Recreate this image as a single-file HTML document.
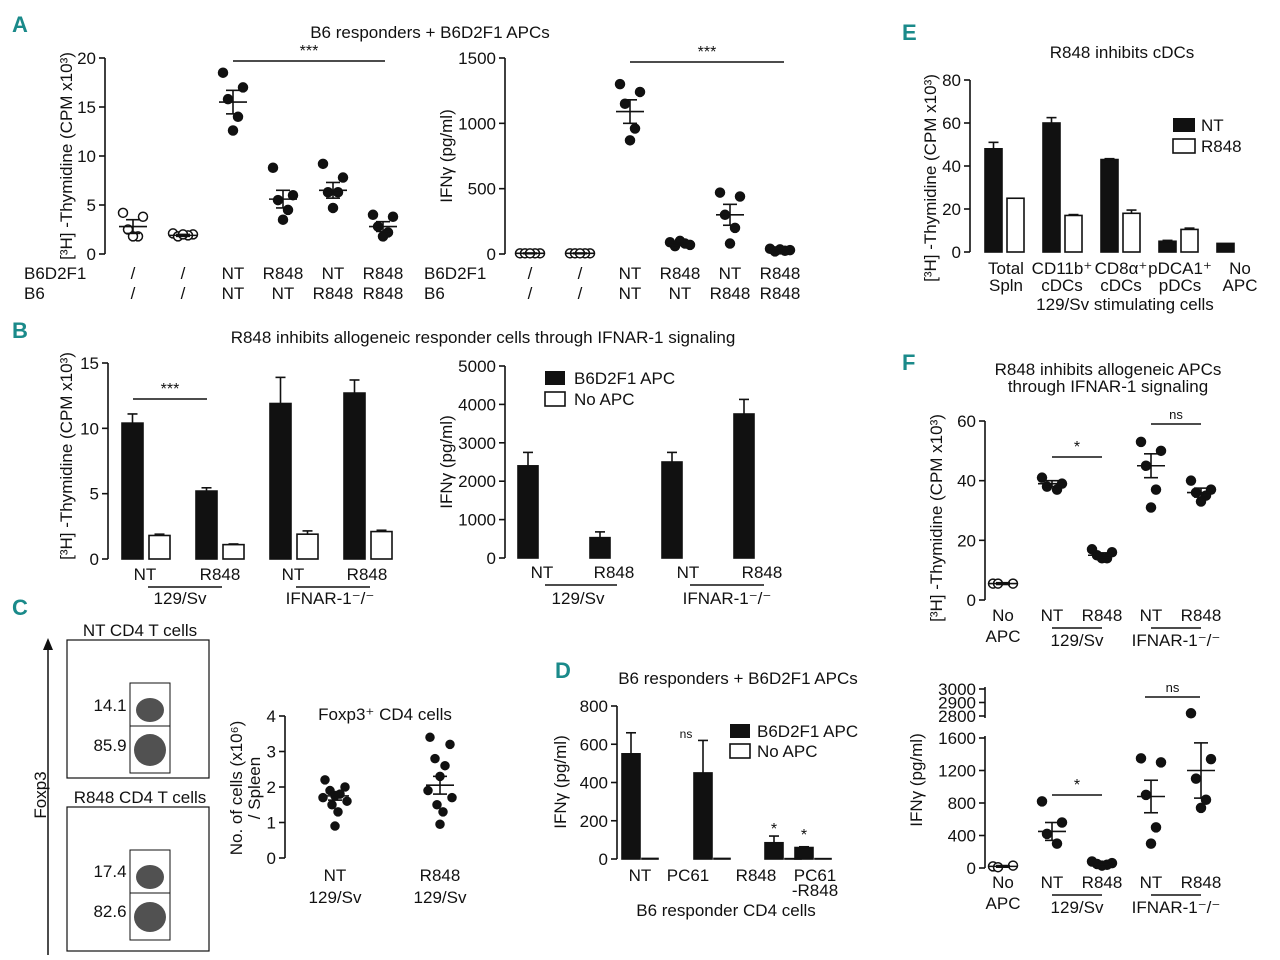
<!DOCTYPE html>
<html><head><meta charset="utf-8">
<style>
body{margin:0;background:#fff;}
svg{display:block;font-family:"Liberation Sans Narrow","Liberation Sans",sans-serif;}
text{fill:#111;}
.pl{font-family:"Liberation Sans Narrow","Liberation Sans",sans-serif;font-weight:bold;fill:#1a8a8a;font-size:22px;}
</style></head>
<body>
<svg id="fig" width="1280" height="960" viewBox="0 0 1280 960"></svg>
<script>
// ---- data ----
const aLeftVals=[[4.2,3.8,2.5,1.8,1.8],[2.1,2.0,1.8,1.9,2.0],[18.5,17,15.8,14,12.6],[8.8,6,5.5,4.5,3.5],[9.2,7.8,6.3,6.3,4.7],[4,3.8,2.8,2.2,1.8]];
const aLeftMean=[2.8,1.9,15.5,5.6,6.5,2.8];
const aLeftSem=[0.7,0.1,1.2,0.9,0.8,0.5];
const aRightVals=[[5,5,5,5,5],[5,5,5,5,5],[1300,1240,1150,960,870],[90,70,60,80,100],[470,440,300,200,80],[40,30,20,25,35]];
const aRightMean=[5,5,1090,75,300,30];
const aRightSem=[3,3,90,10,80,8];
const aRow1=["/","/","NT","R848","NT","R848"];
const aRow2=["/","/","NT","NT","R848","R848"];
const bLeftBlack=[10.4,5.2,11.9,12.7], bLeftBlackErr=[0.7,0.25,2.0,1.0];
const bLeftWhite=[1.8,1.1,1.9,2.1], bLeftWhiteErr=[0.1,0.05,0.25,0.1];
const bRightBlack=[2400,530,2500,3750], bRightErr=[350,150,250,380];
const eBlack=[48,60,43,5,4], eBlackErr=[3,2.5,0.4,0.4,0];
const eWhite=[25,17,18,10.5,0], eWhiteErr=[0,0.4,1.5,0.6,0];
const eCats=[["Total","Spln"],["CD11b⁺","cDCs"],["CD8α⁺","cDCs"],["pDCA1⁺","pDCs"],["No","APC"]];
const fTopVals=[[5.5,5.5,5.5],[41,39,38,37],[17,16,15,14,14],[53,50,45,37,31],[40,37,36,35,33]];
const fTopMean=[5.5,39,15,45,36], fTopSem=[0.3,1,0.8,4,1.5];
const fBotVals=[[20,30,10],[820,560,420,300],[80,60,50,40,30],[1350,1300,900,500,300],[2820,1340,1100,840,740]];
const fBotMean=[20,450,50,880,1200], fBotSem=[10,110,10,200,340];
const cVals=[[2.2,2.0,1.9,1.8,1.75,1.7,1.6,1.5,1.3,0.9],[3.4,3.2,2.8,2.6,2.3,1.9,1.7,1.5,1.3,0.95]];
const cMean=[1.75,2.05], cSem=[0.12,0.25];
const dBlack=[550,450,85,60], dBlackErr=[110,170,35,4];
const dWhite=[3,3,2,2];
const dCats=["NT","PC61","R848","PC61"];

const S=document.getElementById('fig');
const NS='http://www.w3.org/2000/svg';
function el(tag,at,name,txt){const e=document.createElementNS(NS,tag);for(const k in at)e.setAttribute(k,at[k]);


if(txt!==undefined)e.textContent=txt;S.appendChild(e);return e;}
function line(x1,y1,x2,y2,n,w){return el('line',{x1,y1,x2,y2,stroke:'#111','stroke-width':w||1.6},n||'line');}
function text(x,y,t,n,o){o=o||{};return el('text',{x,y,'font-size':o.fs||17,'text-anchor':o.a||'middle',transform:o.tr||''},n||'label',t);}
function yScale(y0,y1,min,max){return v=>y0-(v-min)/(max-min)*(y0-y1);}
function axis(x,y0,y1,min,max,ticks,name){const s=yScale(y0,y1,min,max);line(x,y0,x,y1,name+'-axis');
ticks.forEach(t=>{line(x-6,s(t),x,s(t),name+'-tick');text(x-9,s(t)+6,String(t),name+'-tick-label',{a:'end'});});return s;}
const jit=[-10,10,-5,5,0,-12,12,-3,3,0];
function dots(xs,vals,means,sems,s,open,name,r){r=r||4.5;vals.forEach((g,i)=>{g.forEach((v,j)=>{
 el('circle',{cx:xs[i]+jit[j%jit.length],cy:s(v),r,fill:open[i]?'#fff':'#111',stroke:'#111','stroke-width':1.5},name+'-point');});
 line(xs[i]-14,s(means[i]),xs[i]+14,s(means[i]),name+'-mean');line(xs[i],s(means[i]-sems[i]),xs[i],s(means[i]+sems[i]),name+'-sem');
 line(xs[i]-7,s(means[i]-sems[i]),xs[i]+7,s(means[i]-sems[i]),name+'-sem');line(xs[i]-7,s(means[i]+sems[i]),xs[i]+7,s(means[i]+sems[i]),name+'-sem');});}
function bar(x,w,v,err,s,fill,name){const y0=s(0);el('rect',{x,y:s(v),width:w,height:Math.max(0,y0-s(v)),fill,stroke:'#111','stroke-width':1.6},name);
 if(err>0){line(x+w/2,s(v),x+w/2,s(v+err),name+'-err');line(x+w/2-5,s(v+err),x+w/2+5,s(v+err),name+'-err');}}
function sig(x1,x2,y,t,n){line(x1,y,x2,y,n+'-bracket');text((x1+x2)/2,y-5,t,n+'-label',{fs:t==='ns'?13:16});}

// panel letters
[['A',12,32],['B',12,338],['C',12,615],['D',555,678],['E',902,40],['F',902,370]].forEach(p=>{const t=el('text',{x:p[1],y:p[2],class:'pl'},'panel-label-'+p[0].toLowerCase(),p[0]);});

// ---- A ----
text(430,38,'B6 responders + B6D2F1 APCs','panel-a-title');
let s=axis(105,254,58,0,20,[0,5,10,15,20],'a-left-y');
let xs=[133,183,233,283,333,383];
dots(xs,aLeftVals,aLeftMean,aLeftSem,s,[1,1,0,0,0,0],'a-left');
sig(233,385,61,'***','a-left-sig');
text(72,156,'[³H] -Thymidine (CPM x10³)','a-left-y-title',{tr:'rotate(-90 72 156)'});
text(24,279,'B6D2F1','a-row1-name',{a:'start'});text(24,299,'B6','a-row2-name',{a:'start'});
xs.forEach((x,i)=>{text(x,279,aRow1[i],'a-left-cat');text(x,299,aRow2[i],'a-left-cat');});
s=axis(505,254,58,0,1500,[0,500,1000,1500],'a-right-y');
let xr=[530,580,630,680,730,780];
dots(xr,aRightVals,aRightMean,aRightSem,s,[1,1,0,0,0,0],'a-right');
sig(630,784,62,'***','a-right-sig');
text(452,156,'IFNγ (pg/ml)','a-right-y-title',{tr:'rotate(-90 452 156)'});
text(424,279,'B6D2F1','a-row1-name',{a:'start'});text(424,299,'B6','a-row2-name',{a:'start'});
xr.forEach((x,i)=>{text(x,279,aRow1[i],'a-right-cat');text(x,299,aRow2[i],'a-right-cat');});

// ---- B ----
text(483,343,'R848 inhibits allogeneic responder cells through IFNAR-1 signaling','panel-b-title');
s=axis(108,559,363,0,15,[0,5,10,15],'b-left-y');
let bx=[122,196,270,344];
bx.forEach((x,i)=>{bar(x,21,bLeftBlack[i],bLeftBlackErr[i],s,'#111','b-left-bar-black');bar(x+27,21,bLeftWhite[i],bLeftWhiteErr[i],s,'#fff','b-left-bar-white');});
sig(133,207,399,'***','b-left-sig');
text(72,456,'[³H] -Thymidine (CPM x10³)','b-left-y-title',{tr:'rotate(-90 72 456)'});
[['NT',145],['R848',220],['NT',293],['R848',367]].forEach(c=>text(c[1],580,c[0],'b-left-cat'));
line(148,587,222,587,'b-group-line');line(296,587,370,587,'b-group-line');
text(180,604,'129/Sv','b-group-label');text(330,604,'IFNAR-1⁻/⁻','b-group-label');
s=axis(505,558,366,0,5000,[0,1000,2000,3000,4000,5000],'b-right-y');
[518,590,662,734].forEach((x,i)=>bar(x,20,bRightBlack[i],bRightErr[i],s,'#111','b-right-bar'));
text(452,462,'IFNγ (pg/ml)','b-right-y-title',{tr:'rotate(-90 452 462)'});
el('rect',{x:545,y:371,width:20,height:14,fill:'#111'},'legend-b6d2f1-swatch');text(574,384,'B6D2F1 APC','legend-b6d2f1',{a:'start'});
el('rect',{x:545,y:392,width:20,height:14,fill:'#fff',stroke:'#111','stroke-width':1.6},'legend-noapc-swatch');text(574,405,'No APC','legend-noapc',{a:'start'});
[['NT',542],['R848',614],['NT',688],['R848',762]].forEach(c=>text(c[1],578,c[0],'b-right-cat'));
line(545,585,617,585,'b-group-line');line(690,585,764,585,'b-group-line');
text(578,604,'129/Sv','b-group-label');text(727,604,'IFNAR-1⁻/⁻','b-group-label');

// ---- C ----
text(140,636,'NT CD4 T cells','c-flow1-title');text(140,803,'R848 CD4 T cells','c-flow2-title');
el('rect',{x:67,y:640,width:142,height:138,fill:'#fff',stroke:'#111','stroke-width':1.2},'c-flow1-plot');
el('rect',{x:67,y:807,width:142,height:144,fill:'#fff',stroke:'#111','stroke-width':1.2},'c-flow2-plot');
el('rect',{x:130,y:683,width:40,height:90,fill:'none',stroke:'#111'},'c-gate1');line(130,726,170,726,'c-gate1-split',1);
el('rect',{x:130,y:850,width:40,height:90,fill:'none',stroke:'#111'},'c-gate2');line(130,893,170,893,'c-gate2-split',1);
[[150,710,14,12],[150,750,16,16],[150,877,14,12],[150,917,16,15]].forEach(b=>el('ellipse',{cx:b[0],cy:b[1],rx:b[2],ry:b[3],fill:'#333',opacity:0.85},'c-flow-cluster'));
text(110,711,'14.1','c-flow1-upper');text(110,751,'85.9','c-flow1-lower');text(110,877,'17.4','c-flow2-upper');text(110,917,'82.6','c-flow2-lower');
line(48,955,48,648,'c-foxp3-axis',1.5);el('path',{d:'M43 650 L48 638 L53 650 Z',fill:'#111'},'c-foxp3-arrow');
text(46,795,'Foxp3','c-foxp3-label',{tr:'rotate(-90 46 795)'});
text(385,720,'Foxp3⁺ CD4 cells','c-title');
s=axis(285,858,716,0,4,[0,1,2,3,4],'c-y');
dots([335,440],cVals,cMean,cSem,s,[0,0],'c',4);
text(242,788,'No. of cells (x10⁶)','c-y-title',{tr:'rotate(-90 242 788)'});text(260,788,'/ Spleen','c-y-title2',{tr:'rotate(-90 260 788)'});
text(335,881,'NT','c-cat');text(335,903,'129/Sv','c-cat');text(440,881,'R848','c-cat');text(440,903,'129/Sv','c-cat');

// ---- D ----
text(738,684,'B6 responders + B6D2F1 APCs','panel-d-title');
s=axis(617,859,706,0,800,[0,200,400,600,800],'d-y');
[622,694,765,795].forEach((x,i)=>{bar(x,18,dBlack[i],dBlackErr[i],s,'#111','d-bar-black');bar(x+20,16,dWhite[i],0,s,'#fff','d-bar-white');});
text(686,738,'ns','d-sig-ns',{fs:12});text(774,834,'*','d-sig',{fs:16});text(804,840,'*','d-sig',{fs:16});
text(566,782,'IFNγ (pg/ml)','d-y-title',{tr:'rotate(-90 566 782)'});
el('rect',{x:730,y:724,width:20,height:14,fill:'#111'},'d-legend-swatch');text(757,737,'B6D2F1 APC','d-legend-b6d2f1',{a:'start'});
el('rect',{x:730,y:744,width:20,height:14,fill:'#fff',stroke:'#111','stroke-width':1.6},'d-legend-swatch2');text(757,757,'No APC','d-legend-noapc',{a:'start'});
[[640,'NT'],[688,'PC61'],[756,'R848'],[815,'PC61']].forEach(c=>text(c[0],881,c[1],'d-cat'));text(815,896,'-R848','d-cat');
text(726,916,'B6 responder CD4 cells','d-x-title');

// ---- E ----
text(1122,58,'R848 inhibits cDCs','panel-e-title');
s=axis(970,252,80,0,80,[0,20,40,60,80],'e-y');
[985,1043,1101,1159,1217].forEach((x,i)=>{bar(x,17,eBlack[i],eBlackErr[i],s,'#111','e-bar-black');if(eWhite[i]>0)bar(x+22,17,eWhite[i],eWhiteErr[i],s,'#fff','e-bar-white');});
el('rect',{x:1173,y:118,width:22,height:14,fill:'#111'},'e-legend-nt-swatch');text(1201,131,'NT','e-legend-nt',{a:'start'});
el('rect',{x:1173,y:139,width:22,height:14,fill:'#fff',stroke:'#111','stroke-width':1.6},'e-legend-r848-swatch');text(1201,152,'R848','e-legend-r848',{a:'start'});
text(936,178,'[³H] -Thymidine (CPM x10³)','e-y-title',{tr:'rotate(-90 936 178)'});
[1006,1062,1121,1180,1240].forEach((x,i)=>{text(x,274,eCats[i][0],'e-cat');text(x,291,eCats[i][1],'e-cat');});
text(1125,310,'129/Sv stimulating cells','e-x-title');

// ---- F ----
text(1108,375,'R848 inhibits allogeneic APCs','panel-f-title');text(1108,392,'through IFNAR-1 signaling','panel-f-title2');
s=axis(985,600,421,0,60,[0,20,40,60],'f-top-y');
let fx=[1003,1052,1102,1151,1201];
dots(fx,fTopVals,fTopMean,fTopSem,s,[1,0,0,0,0],'f-top',4.5);
sig(1052,1102,457,'*','f-top-sig');sig(1151,1201,424,'ns','f-top-sig-ns');
text(942,518,'[³H] -Thymidine (CPM x10³)','f-top-y-title',{tr:'rotate(-90 942 518)'});
[[1003,'No'],[1052,'NT'],[1102,'R848'],[1151,'NT'],[1201,'R848']].forEach(c=>text(c[0],621,c[1],'f-top-cat'));
text(1003,642,'APC','f-top-cat');line(1052,628,1102,628,'f-group-line');line(1151,628,1201,628,'f-group-line');
text(1077,646,'129/Sv','f-top-group');text(1176,646,'IFNAR-1⁻/⁻','f-top-group');
// bottom broken axis
const sl=yScale(868,738,0,1600), su=yScale(716,689,2800,3000);
const sb=v=>v<=1700?sl(v):su(v);
line(985,868,985,736,'f-bot-y-axis');line(985,718,985,687,'f-bot-y-axis-upper');
[0,400,800,1200,1600].forEach(t=>{line(979,sl(t),985,sl(t),'f-bot-tick');text(976,sl(t)+6,String(t),'f-bot-tick-label',{a:'end'});});
[2800,2900,3000].forEach(t=>{line(979,su(t),985,su(t),'f-bot-tick');text(976,su(t)+6,String(t),'f-bot-tick-label',{a:'end'});});
dots(fx,fBotVals,fBotMean,fBotSem,sb,[1,0,0,0,0],'f-bot',4.5);
sig(1052,1102,795,'*','f-bot-sig');sig(1145,1200,697,'ns','f-bot-sig-ns');
text(922,780,'IFNγ (pg/ml)','f-bot-y-title',{tr:'rotate(-90 922 780)'});
[[1003,'No'],[1052,'NT'],[1102,'R848'],[1151,'NT'],[1201,'R848']].forEach(c=>text(c[0],888,c[1],'f-bot-cat'));
text(1003,909,'APC','f-bot-cat');line(1052,895,1102,895,'f-group-line');line(1151,895,1201,895,'f-group-line');
text(1077,913,'129/Sv','f-bot-group');text(1176,913,'IFNAR-1⁻/⁻','f-bot-group');
</script>
</body></html>
